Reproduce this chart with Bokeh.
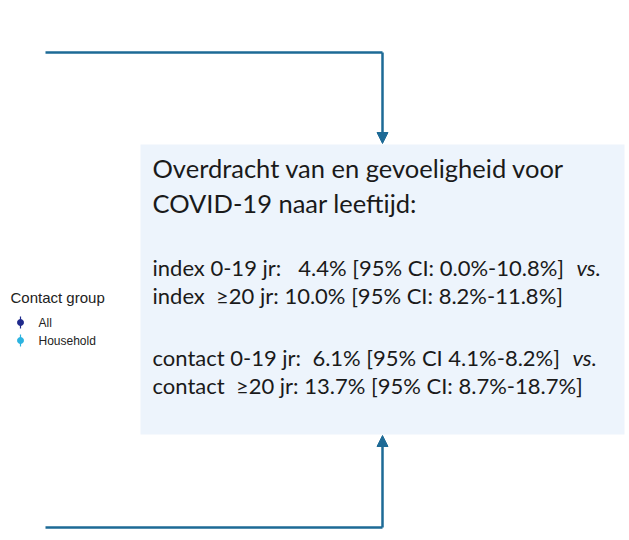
from bokeh.plotting import figure
from bokeh.models import Range1d, Arrow, NormalHead, ColumnDataSource
from bokeh.core.properties import value
from bokeh.embed import file_html
from bokeh.resources import INLINE

NB = "\u00a0"
# ---- content ----
title_lines = ["Overdracht van en gevoeligheid voor", "COVID-19 naar leeftijd:"]
body_lines = [
    "index 0-19 jr:" + NB * 3 + "4.4% [95% CI: 0.0%-10.8%]",
    "index" + NB * 2 + "\u226520 jr: 10.0% [95% CI: 8.2%-11.8%]",
    "contact 0-19 jr:" + NB * 2 + "6.1% [95% CI 4.1%-8.2%]",
    "contact" + NB * 2 + "\u226520 jr: 13.7% [95% CI: 8.7%-18.7%]",
]
vs_flags = [True, False, True, False]
legend_title = "Contact group"
groups = ["All", "Household"]
group_colors = ["#1f2a8c", "#2bb3e0"]

# ---- layout (page pixels) ----
W, H = 626, 536
p = figure(width=W, height=H, x_range=Range1d(0, W), y_range=Range1d(H, 0),
           output_backend="svg", toolbar_location=None, min_border=0)
p.axis.visible = False
p.grid.visible = False
p.outline_line_color = None
p.background_fill_color = "white"
p.border_fill_color = "white"

line_col = "#1d6a96"
box_col = "#edf4fc"

# box
p.quad(left=[140], right=[624], top=[144], bottom=[434], fill_color=box_col, line_color=None)

# arrows
p.line(x=[45, 382], y=[52, 52], line_color=line_col, line_width=2.5)
p.add_layout(Arrow(x_start=382, y_start=52, x_end=382, y_end=143, line_color=line_col, line_width=2.5,
                   end=NormalHead(size=11, fill_color=line_col, line_color=line_col)))
p.line(x=[45, 382], y=[527, 527], line_color=line_col, line_width=2.5)
p.add_layout(Arrow(x_start=382, y_start=527, x_end=382, y_end=435, line_color=line_col, line_width=2.5,
                   end=NormalHead(size=11, fill_color=line_col, line_color=line_col)))

txt_col = "#1a1a1a"
# title text
title_y = [167, 202]
p.text(x=[152] * len(title_lines), y=title_y, text=title_lines, text_font=value("Lato"),
       text_font_size="25.5px", text_color=txt_col, text_baseline="middle", text_align="left")

body_y = [267, 295, 357, 385]
p.text(x=[152] * len(body_lines), y=body_y, text=body_lines, text_font=value("Lato"),
       text_font_size="22px", text_color=txt_col, text_baseline="middle", text_align="left")
vs_x = [576, None, 572, None]
vx = [x for x, f in zip(vs_x, vs_flags) if f]
vy = [y for y, f in zip(body_y, vs_flags) if f]
p.text(x=vx, y=vy, text=["vs."] * len(vx), text_font=value("Lato"), text_font_style="italic",
       text_font_size="22px", text_color=txt_col, text_baseline="middle", text_align="left")

# legend
p.text(x=[10], y=[297], text=[legend_title], text_font=value("Liberation Sans"),
       text_font_size="15px", text_color="#222222", text_baseline="middle", text_align="left")
leg_y = [322, 340]
src = ColumnDataSource(dict(x=[20, 20], y=leg_y, c=group_colors, lab=groups,
                            y0=[y - 6 for y in leg_y], y1=[y + 6 for y in leg_y]))
p.segment(x0="x", x1="x", y0="y0", y1="y1", line_color="c", line_width=1.2, source=src)
p.scatter(x="x", y="y", fill_color="c", line_color="c", size=6, source=src)
p.text(x=[38, 38], y=leg_y, text=groups, text_font=value("Liberation Sans"),
       text_font_size="12px", text_color="#222222", text_baseline="middle", text_align="left")

open("out.html", "w").write(file_html(p, INLINE))
